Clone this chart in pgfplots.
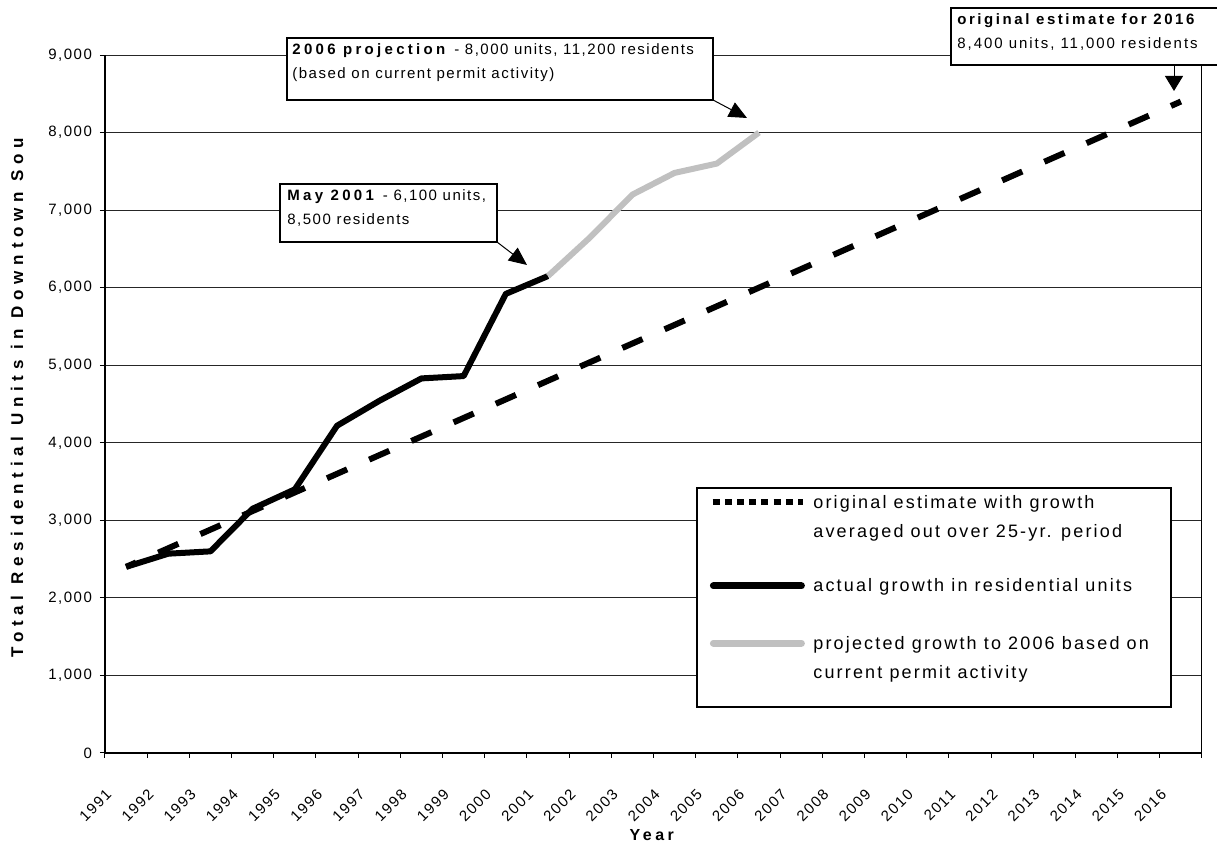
\documentclass[border=0pt]{standalone}
\usepackage{fontspec}
\setmainfont{Liberation Sans}[LetterSpace=10]
\usepackage{pgfplots}
\usepackage{pgfplotstable}
\pgfplotsset{compat=1.18}
\usetikzlibrary{arrows.meta}
\definecolor{projgray}{RGB}{192,192,192}

\pgfplotstableread{
x y
0.5 2400
1.5 2640
2.5 2880
3.5 3120
4.5 3360
5.5 3600
6.5 3840
7.5 4080
8.5 4320
9.5 4560
10.5 4800
11.5 5040
12.5 5280
13.5 5520
14.5 5760
15.5 6000
16.5 6240
17.5 6480
18.5 6720
19.5 6960
20.5 7200
21.5 7440
22.5 7680
23.5 7920
24.5 8160
25.5 8400
}\estdata

\pgfplotstableread{
x y
0.5 2400
1.5 2570
2.5 2600
3.5 3150
4.5 3400
5.5 4220
6.5 4540
7.5 4830
8.5 4860
9.5 5920
10.5 6150
}\actdata

\pgfplotstableread{
x y
10.5 6150
11.5 6650
12.5 7200
13.5 7480
14.5 7600
15.5 8000
}\projdata

\newcommand{\bsp}[1]{\textbf{\addfontfeatures{LetterSpace=22}#1}}
\newcommand{\lgt}[1]{\begin{tabular}[t]{@{}l@{}}#1\end{tabular}}

\begin{document}
\begin{tikzpicture}
\useasboundingbox (-52.5pt,-46.5pt) rectangle (556pt,376.5pt);
\begin{axis}[
  scale only axis, width=548.5pt, height=349pt,
  xmin=0, xmax=26, ymin=0, ymax=9000,
  xtick={0,1,...,26},
  xticklabels={1991,1992,1993,1994,1995,1996,1997,1998,1999,2000,2001,2002,2003,2004,2005,2006,2007,2008,2009,2010,2011,2012,2013,2014,2015,2016,{}},
  ytick={0,1000,...,9000},
  scaled y ticks=false,
  /pgf/number format/1000 sep={,},
  /pgf/number format/assume math mode=true,
  axis lines*=left,
  tick align=outside,
  major tick length=2.5pt,
  tick style={black, line width=0.5pt},
  x axis line style={line width=1pt},
  y axis line style={line width=0.8pt},
  ymajorgrids,
  major grid style={black!85, line width=0.5pt},
  yticklabel style={font=\fontsize{7.5}{9}\selectfont, xshift=-0.5pt},
  xticklabel style={font=\fontsize{7.5}{9}\selectfont, xshift=2pt, yshift=-17pt, rotate=45, anchor=east, inner sep=0pt},
  xlabel={\bsp{Year}},
  ylabel={\textbf{\addfontfeatures{LetterSpace=34}Total Residential Units in Downtown Sou}},
  xlabel style={font=\fontsize{8}{10}\selectfont, at={(axis description cs:0.5,-0.1175)}, anchor=center},
  ylabel style={font=\fontsize{8.5}{10}\selectfont, at={(axis description cs:-0.0802,0.513)}, anchor=center},
  legend style={at={(axis description cs:0.5497,0.3857)}, anchor=north west, draw=none, fill=none,
    font=\fontsize{9}{14.5}\selectfont\addfontfeatures{LetterSpace=12}, row sep=13pt,
    inner sep=0pt, column sep=1.5pt},
  legend style={cells={anchor=base west}},
]
\draw[fill=white, line width=0.7pt] (rel axis cs:0.5397,0.3797) rectangle (rel axis cs:0.9717,0.0659);
\draw[line width=0.5pt] (rel axis cs:1,0) -- (rel axis cs:1,1);
\addplot[black, line width=3pt, dash pattern=on 11pt off 12.06pt, dash phase=5.5pt,
  legend image code/.code={\draw[black, line width=3pt, dash pattern=on 3.5pt off 2.6pt] (0pt,3pt) -- (46pt,3pt);}]
  table[x=x,y=y] {\estdata};
\addlegendentry{\lgt{original estimate with growth\\averaged out over 25-yr. period}}
\addplot[black, line width=3pt, line join=round,
  legend image code/.code={\draw[black, line width=3.5pt, line cap=round] (1pt,3pt) -- (45pt,3pt);}]
  table[x=x,y=y] {\actdata};
\addlegendentry{\lgt{\rule{0pt}{23.2pt}actual growth in residential units}}
\addplot[projgray, line width=3pt, line join=round,
  legend image code/.code={\draw[projgray, line width=3.5pt, line cap=round] (1pt,3pt) -- (45pt,3pt);}]
  table[x=x,y=y] {\projdata};
\addlegendentry{\lgt{projected growth to 2006 based on\\current permit activity}}
\end{axis}
% annotation boxes
\draw[fill=white, line width=0.7pt] (91pt,326.5pt) rectangle (304pt,357.5pt);
\node[anchor=north west, align=left, inner sep=0pt, font=\fontsize{7.5}{12}\selectfont] at (93.5pt,355pt)
  {\bsp{2006 projection} - 8,000 units, 11,200 residents\\(based on current permit activity)};
\draw[line width=0.5pt, -{Triangle[length=9pt,width=8pt]}] (304pt,326.5pt) -- (321pt,317.5pt);

\draw[fill=white, line width=0.7pt] (87.5pt,255.5pt) rectangle (196pt,284.5pt);
\node[anchor=north west, align=left, inner sep=0pt, font=\fontsize{7.5}{12}\selectfont] at (91pt,282pt)
  {\bsp{May 2001} - 6,100 units,\\8,500 residents};
\draw[line width=0.5pt, -{Triangle[length=9pt,width=8pt]}] (196pt,255.5pt) -- (211pt,244pt);

\draw[fill=white, line width=0.7pt] (423pt,344pt) rectangle (562.5pt,372.5pt);
\node[anchor=north west, align=left, inner sep=0pt, font=\fontsize{7.5}{12}\selectfont] at (426pt,370pt)
  {\textbf{\addfontfeatures{LetterSpace=17}original estimate for 2016}\\{\addfontfeatures{LetterSpace=13}8,400 units, 11,000 residents}};
\draw[line width=0.5pt, -{Triangle[length=7.5pt,width=9pt]}] (534.5pt,344pt) -- (534.5pt,331pt);
\end{tikzpicture}
\end{document}
